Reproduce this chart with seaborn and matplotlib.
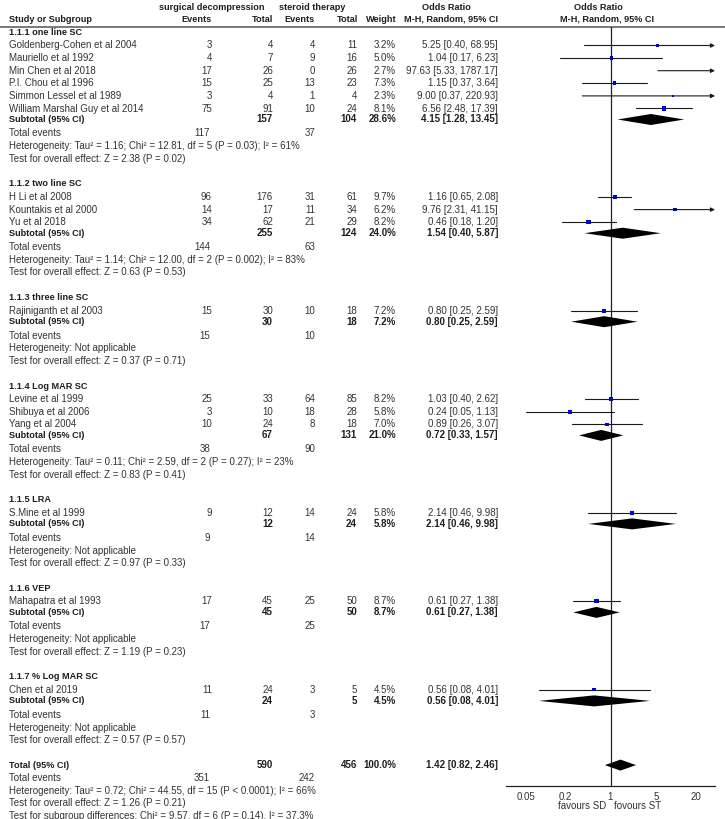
import matplotlib
matplotlib.use("Agg")
import matplotlib.pyplot as plt
import seaborn as sns
import numpy as np
import pandas as pd

# ---------------- data ----------------
group_titles = ["1.1.1 one line SC", "1.1.2 two line SC", "1.1.3 three line SC",
                "1.1.4 Log MAR SC", "1.1.5 LRA", "1.1.6 VEP", "1.1.7 % Log MAR SC"]

study_group = [0, 0, 0, 0, 0, 0, 1, 1, 1, 2, 3, 3, 3, 4, 5, 6]
study_names = ["Goldenberg-Cohen et al 2004", "Mauriello et al 1992", "Min Chen et al 2018",
               "P.I. Chou et al 1996", "Simmon Lessel et al 1989", "William Marshal Guy et al 2014",
               "H Li et al 2008", "Kountakis et al 2000", "Yu et al 2018",
               "Rajiniganth et al 2003",
               "Levine et al 1999", "Shibuya et al 2006", "Yang et al 2004",
               "S.Mine et al 1999", "Mahapatra et al 1993", "Chen et al 2019"]
sd_events = [3, 4, 17, 15, 3, 75, 96, 14, 34, 15, 25, 3, 10, 9, 17, 11]
sd_totals = [4, 7, 26, 25, 4, 91, 176, 17, 62, 30, 33, 10, 24, 12, 45, 24]
st_events = [4, 9, 0, 13, 1, 10, 31, 11, 21, 10, 64, 18, 8, 14, 25, 3]
st_totals = [11, 16, 26, 23, 4, 24, 61, 34, 29, 18, 85, 28, 18, 24, 50, 5]
study_weights = [3.2, 5.0, 2.7, 7.3, 2.3, 8.1, 9.7, 6.2, 8.2, 7.2, 8.2, 5.8, 7.0, 5.8, 8.7, 4.5]
study_or = [5.25, 1.04, 97.63, 1.15, 9.00, 6.56, 1.16, 9.76, 0.46, 0.80, 1.03, 0.24, 0.89, 2.14, 0.61, 0.56]
study_lo = [0.40, 0.17, 5.33, 0.37, 0.37, 2.48, 0.65, 2.31, 0.18, 0.25, 0.40, 0.05, 0.26, 0.46, 0.27, 0.08]
study_hi = [68.95, 6.23, 1787.17, 3.64, 220.93, 17.39, 2.08, 41.15, 1.20, 2.59, 2.62, 1.13, 3.07, 9.98, 1.38, 4.01]

sub_sd_totals = [157, 255, 30, 67, 12, 45, 24]
sub_st_totals = [104, 124, 18, 131, 24, 50, 5]
sub_sd_events = [117, 144, 15, 38, 9, 17, 11]
sub_st_events = [37, 63, 10, 90, 14, 25, 3]
sub_weights = [28.6, 24.0, 7.2, 21.0, 5.8, 8.7, 4.5]
sub_or = [4.15, 1.54, 0.80, 0.72, 2.14, 0.61, 0.56]
sub_lo = [1.28, 0.40, 0.25, 0.33, 0.46, 0.27, 0.08]
sub_hi = [13.45, 5.87, 2.59, 1.57, 9.98, 1.38, 4.01]
sub_het = ["Heterogeneity: Tau\u00b2 = 1.16; Chi\u00b2 = 12.81, df = 5 (P = 0.03); I\u00b2 = 61%",
           "Heterogeneity: Tau\u00b2 = 1.14; Chi\u00b2 = 12.00, df = 2 (P = 0.002); I\u00b2 = 83%",
           "Heterogeneity: Not applicable",
           "Heterogeneity: Tau\u00b2 = 0.11; Chi\u00b2 = 2.59, df = 2 (P = 0.27); I\u00b2 = 23%",
           "Heterogeneity: Not applicable",
           "Heterogeneity: Not applicable",
           "Heterogeneity: Not applicable"]
sub_z = ["Test for overall effect: Z = 2.38 (P = 0.02)",
         "Test for overall effect: Z = 0.63 (P = 0.53)",
         "Test for overall effect: Z = 0.37 (P = 0.71)",
         "Test for overall effect: Z = 0.83 (P = 0.41)",
         "Test for overall effect: Z = 0.97 (P = 0.33)",
         "Test for overall effect: Z = 1.19 (P = 0.23)",
         "Test for overall effect: Z = 0.57 (P = 0.57)"]

total_sd_total, total_st_total = 590, 456
total_sd_events, total_st_events = 351, 242
total_weight = 100.0
total_or, total_lo, total_hi = 1.42, 0.82, 2.46
total_het = "Heterogeneity: Tau\u00b2 = 0.72; Chi\u00b2 = 44.55, df = 15 (P < 0.0001); I\u00b2 = 66%"
total_z = "Test for overall effect: Z = 1.26 (P = 0.21)"
subgroup_diff = "Test for subgroup differences: Chi\u00b2 = 9.57, df = 6 (P = 0.14), I\u00b2 = 37.3%"

axis_ticks = [0.05, 0.2, 1, 5, 20]
axis_tick_labels = ["0.05", "0.2", "1", "5", "20"]
favours_left = "favours SD"
favours_right = "fovours ST"

# ---------------- style ----------------
sns.set_style("white")
plt.rcParams["font.family"] = ["Liberation Sans", "DejaVu Sans"]
FS = 7
FS_BW = 6.6   # bold words
FS_BN = 7.0   # bold numbers
C_TXT = "#333333"
C_BOLD = "#1e1e1e"

W, H = 725, 819
fig = plt.figure(figsize=(W / 100, H / 100), dpi=100)
fig.patch.set_facecolor("white")

tx = fig.add_axes([0, 0, 1, 1])
tx.set_xlim(0, W)
tx.set_ylim(H, 0)
tx.axis("off")

def t(x, y, s, ha="left", bold=False, num=False):
    fs = (FS_BN if num else FS_BW) if bold else FS
    tx.text(x, y, s, ha=ha, va="center", fontsize=fs,
            fontweight="bold" if bold else "normal",
            color=C_BOLD if bold else C_TXT)

X_NAME, X_EV_SD, X_TOT_SD, X_EV_ST, X_TOT_ST, X_W, X_OR = 9, 212, 273, 315, 357, 396, 498

# headers
t(212, 7, "surgical decompression", ha="center", bold=True)
t(312, 7, "steroid therapy", ha="center", bold=True)
t(446, 7, "Odds Ratio", ha="center", bold=True)
t(598, 7, "Odds Ratio", ha="center", bold=True)
t(X_NAME, 19, "Study or Subgroup", bold=True)
t(X_EV_SD, 19, "Events", ha="right", bold=True)
t(X_TOT_SD, 19, "Total", ha="right", bold=True)
t(X_EV_ST, 19, "Events", ha="right", bold=True)
t(X_TOT_ST + 1, 19, "Total", ha="right", bold=True)
t(X_W + 1, 19, "Weight", ha="right", bold=True)
t(X_OR, 19, "M-H, Random, 95% CI", ha="right", bold=True)
t(607, 19, "M-H, Random, 95% CI", ha="center", bold=True)
tx.plot([0, W], [27, 27], color="#555555", lw=1.1)

# ---------------- layout rows ----------------
ci_txt = lambda o, l, h: f"{o:.2f} [{l:.2f}, {h:.2f}]"
y = 32.5
study_y = [0.0] * len(study_names)
sub_y = []
for g, title in enumerate(group_titles):
    if g > 0:
        y += 25.3
    t(X_NAME, y, title, bold=True)
    y += 13
    idx = [i for i, gg in enumerate(study_group) if gg == g]
    for k, i in enumerate(idx):
        if k > 0:
            y += 12.6
        study_y[i] = y
        t(X_NAME, y, study_names[i])
        t(X_EV_SD, y, str(sd_events[i]), ha="right")
        t(X_TOT_SD, y, str(sd_totals[i]), ha="right")
        t(X_EV_ST, y, str(st_events[i]), ha="right")
        t(X_TOT_ST, y, str(st_totals[i]), ha="right")
        t(X_W, y, f"{study_weights[i]:.1f}%", ha="right")
        t(X_OR, y, ci_txt(study_or[i], study_lo[i], study_hi[i]), ha="right")
    y += 11
    sub_y.append(y)
    t(X_NAME, y, "Subtotal (95% CI)", bold=True)
    t(X_TOT_SD, y, str(sub_sd_totals[g]), ha="right", bold=True, num=True)
    t(X_TOT_ST, y, str(sub_st_totals[g]), ha="right", bold=True, num=True)
    t(X_W, y, f"{sub_weights[g]:.1f}%", ha="right", bold=True, num=True)
    t(X_OR, y, ci_txt(sub_or[g], sub_lo[g], sub_hi[g]), ha="right", bold=True, num=True)
    y += 14
    t(X_NAME, y, "Total events")
    t(X_EV_SD - 2, y, str(sub_sd_events[g]), ha="right")
    t(X_EV_ST, y, str(sub_st_events[g]), ha="right")
    y += 12.6
    t(X_NAME, y, sub_het[g])
    y += 12.6
    t(X_NAME, y, sub_z[g])

y += 25.0
total_y = y
t(X_NAME, y, "Total (95% CI)", bold=True)
t(X_TOT_SD, y, str(total_sd_total), ha="right", bold=True, num=True)
t(X_TOT_ST, y, str(total_st_total), ha="right", bold=True, num=True)
t(X_W, y, f"{total_weight:.1f}%", ha="right", bold=True, num=True)
t(X_OR, y, ci_txt(total_or, total_lo, total_hi), ha="right", bold=True, num=True)
y += 13.2
t(X_NAME, y, "Total events")
t(X_EV_SD - 2, y, str(total_sd_events), ha="right")
t(X_EV_ST, y, str(total_st_events), ha="right")
y += 12.4
t(X_NAME, y, total_het)
y += 12.4
t(X_NAME, y, total_z)
y += 12.5
t(X_NAME, y, subgroup_diff)

# ---------------- forest axes ----------------
AX_L, AX_R, AX_T, AX_B = 506, 715, 27, 786
fa = fig.add_axes([AX_L / W, 1 - AX_B / H, (AX_R - AX_L) / W, (AX_B - AX_T) / H])
fa.patch.set_alpha(0)
fa.set_xscale("log")
XMIN, XMAX = 10 ** -1.6, 10 ** 1.6
fa.set_xlim(XMIN, XMAX)
fa.set_ylim(AX_B, AX_T)
for s in ["top", "right", "left"]:
    fa.spines[s].set_visible(False)
fa.spines["bottom"].set_color("#222222")
fa.spines["bottom"].set_linewidth(0.9)
fa.set_yticks([])
fa.set_xticks(axis_ticks)
fa.set_xticklabels(axis_tick_labels)
fa.minorticks_off()
fa.tick_params(axis="x", direction="inout", length=7, width=0.9, color="#222222",
               labelsize=FS, labelcolor=C_TXT, pad=1)
fa.axvline(1, color="#222222", lw=0.9, zorder=1)

LC = "#1a1a1a"
for i in range(len(study_names)):
    yy = study_y[i]
    lo, hi = study_lo[i], study_hi[i]
    if hi > XMAX:
        fa.annotate("", xy=(XMAX, yy), xytext=(max(lo, XMIN), yy),
                    arrowprops=dict(arrowstyle="-|>", lw=0.8, color=LC,
                                    mutation_scale=6, shrinkA=0, shrinkB=0))
    else:
        fa.plot([max(lo, XMIN), hi], [yy, yy], color=LC, lw=0.8, zorder=2)

df = pd.DataFrame({"or": study_or, "y": study_y, "w": study_weights})
sns.scatterplot(data=df, x="or", y="y", size="w", sizes=(3, 10), marker="s",
                color="#0000dd", linewidth=0, legend=False, ax=fa, zorder=3)

HALF = 5.5
def diamond(o, l, h, yy):
    fa.fill([l, o, h, o], [yy, yy - HALF, yy, yy + HALF], color="black", lw=0, zorder=3)

for g in range(len(group_titles)):
    diamond(sub_or[g], sub_lo[g], sub_hi[g], sub_y[g])
diamond(total_or, total_lo, total_hi, total_y)

fa.set_xlabel("")
fa.set_ylabel("")
t(606, 806, favours_left, ha="right")
t(614, 806, favours_right, ha="left")

fig.savefig("out.png", dpi=100, facecolor="white")
